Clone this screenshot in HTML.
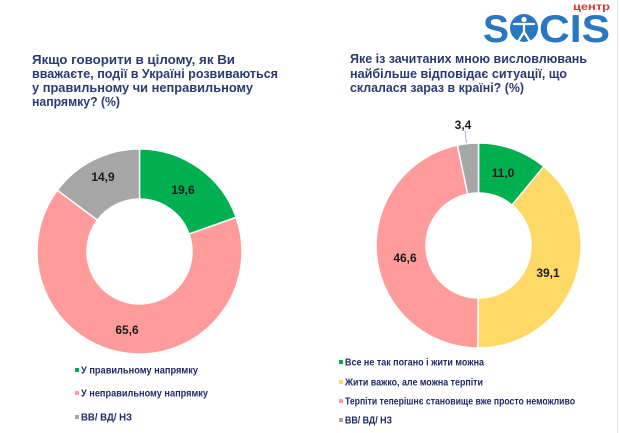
<!DOCTYPE html>
<html>
<head>
<meta charset="utf-8">
<style>
  html,body{margin:0;padding:0;background:#fff;}
  body{width:620px;height:433px;overflow:hidden;}
  svg{display:block;}
  .t{font-family:"Liberation Sans",Arial,sans-serif;font-weight:bold;font-size:12.5px;fill:#2b3a70;}
  .lg{font-family:"Liberation Sans",Arial,sans-serif;font-weight:bold;font-size:10.5px;fill:#1f2b68;}
  .lb{font-family:"Liberation Sans",Arial,sans-serif;font-weight:bold;font-size:12px;fill:#1a1a1a;text-anchor:middle;}
</style>
</head>
<body>
<svg width="620" height="433" viewBox="0 0 620 433" xmlns="http://www.w3.org/2000/svg">
  <rect width="620" height="433" fill="#fff"/>
  <line x1="617.5" y1="0" x2="617.5" y2="433" stroke="#e2e2e2" stroke-width="1"/>

  <!-- Logo -->
  <text x="573" y="10" font-family="Liberation Sans, Arial, sans-serif" font-weight="bold" font-size="10" fill="#e5322d" textLength="37" lengthAdjust="spacingAndGlyphs">центр</text>
  <text x="483" y="42" font-family="Liberation Sans, Arial, sans-serif" font-weight="bold" font-size="39" fill="#2877c0" textLength="26" lengthAdjust="spacingAndGlyphs">S</text>
  <circle cx="524" cy="28" r="14" fill="#2877c0"/>
  <g stroke="#fff" stroke-width="2.2" stroke-linecap="round" fill="none">
    <line x1="514" y1="24" x2="534" y2="24"/>
    <line x1="524" y1="24" x2="524" y2="32"/>
    <line x1="524" y1="32" x2="519" y2="40"/>
    <line x1="524" y1="32" x2="529" y2="40"/>
  </g>
  <circle cx="524" cy="19.5" r="2.6" fill="#fff"/>
  <text x="539" y="42" font-family="Liberation Sans, Arial, sans-serif" font-weight="bold" font-size="39" fill="#2877c0" textLength="71" lengthAdjust="spacingAndGlyphs">CIS</text>

  <!-- Left title -->
  <text class="t" x="32" y="64" textLength="203" lengthAdjust="spacingAndGlyphs">Якщо говорити в цілому, як Ви</text>
  <text class="t" x="32" y="78" textLength="246" lengthAdjust="spacingAndGlyphs">вважаєте, події в Україні розвиваються</text>
  <text class="t" x="32" y="92" textLength="221" lengthAdjust="spacingAndGlyphs">у правильному чи неправильному</text>
  <text class="t" x="32" y="106" textLength="88" lengthAdjust="spacingAndGlyphs">напрямку? (%)</text>

  <!-- Right title -->
  <text class="t" x="350" y="63" textLength="237" lengthAdjust="spacingAndGlyphs">Яке із зачитаних мною висловлювань</text>
  <text class="t" x="350" y="78" textLength="217" lengthAdjust="spacingAndGlyphs">найбільше відповідає ситуації, що</text>
  <text class="t" x="350" y="92" textLength="174" lengthAdjust="spacingAndGlyphs">склалася зараз в країні? (%)</text>

  <!-- Left donut -->
  <g stroke="#fff" stroke-width="1.5" stroke-linejoin="round">
    <path fill="#00b050" d="M139.5,149 A102.5,102.5 0 0 1 236.16,217.38 L189.01,234.03 A52.5,52.5 0 0 0 139.5,199 Z"/>
    <path fill="#ff9b9b" d="M236.16,217.38 A102.5,102.5 0 1 1 57.34,190.21 L97.42,220.11 A52.5,52.5 0 1 0 189.01,234.03 Z"/>
    <path fill="#a6a6a6" d="M57.34,190.21 A102.5,102.5 0 0 1 139.5,149 L139.5,199 A52.5,52.5 0 0 0 97.42,220.11 Z"/>
  </g>
  <text class="lb" x="183" y="194">19,6</text>
  <text class="lb" x="103" y="181">14,9</text>
  <text class="lb" x="127" y="334">65,6</text>

  <!-- Right donut -->
  <g stroke="#fff" stroke-width="1.5" stroke-linejoin="round">
    <path fill="#00b050" d="M478.5,143 A102.5,102.5 0 0 1 543.84,166.52 L511.97,205.05 A52.5,52.5 0 0 0 478.5,193 Z"/>
    <path fill="#ffd966" d="M543.84,166.52 A102.5,102.5 0 0 1 477.86,348 L478.17,298 A52.5,52.5 0 0 0 511.97,205.05 Z"/>
    <path fill="#ff9b9b" d="M477.86,348 A102.5,102.5 0 0 1 457.40,145.20 L467.69,194.12 A52.5,52.5 0 0 0 478.17,298 Z"/>
    <path fill="#a6a6a6" d="M457.40,145.20 A102.5,102.5 0 0 1 478.5,143 L478.5,193 A52.5,52.5 0 0 0 467.69,194.12 Z"/>
  </g>
  <line x1="465" y1="131" x2="466.5" y2="143" stroke="#8ea4c8" stroke-width="0.8"/>
  <text class="lb" x="463" y="129">3,4</text>
  <text class="lb" x="503" y="177">11,0</text>
  <text class="lb" x="548" y="277">39,1</text>
  <text class="lb" x="405" y="262">46,6</text>

  <!-- Left legend -->
  <rect x="75" y="368" width="4" height="4" fill="#00b050"/>
  <text class="lg" x="81" y="373.5" textLength="117" lengthAdjust="spacingAndGlyphs">У правильному  напрямку</text>
  <rect x="75" y="391" width="4" height="4" fill="#ff9b9b"/>
  <text class="lg" x="81" y="396.5" textLength="127" lengthAdjust="spacingAndGlyphs">У неправильному  напрямку</text>
  <rect x="75" y="415" width="4" height="4" fill="#a6a6a6"/>
  <text class="lg" x="81" y="420.5" textLength="51" lengthAdjust="spacingAndGlyphs">ВВ/ ВД/ НЗ</text>

  <!-- Right legend -->
  <rect x="339" y="360" width="4" height="4" fill="#00b050"/>
  <text class="lg" x="345" y="365.5" textLength="139" lengthAdjust="spacingAndGlyphs">Все не так погано і жити можна</text>
  <rect x="339" y="380" width="4" height="4" fill="#ffd966"/>
  <text class="lg" x="345" y="385.5" textLength="138" lengthAdjust="spacingAndGlyphs">Жити важко, але можна терпіти</text>
  <rect x="339" y="399" width="4" height="4" fill="#ff9b9b"/>
  <text class="lg" x="345" y="404.5" textLength="230" lengthAdjust="spacingAndGlyphs">Терпіти теперішнє становище вже просто неможливо</text>
  <rect x="339" y="418" width="4" height="4" fill="#a6a6a6"/>
  <text class="lg" x="345" y="423.5" textLength="47" lengthAdjust="spacingAndGlyphs">ВВ/ ВД/ НЗ</text>
</svg>
</body>
</html>
